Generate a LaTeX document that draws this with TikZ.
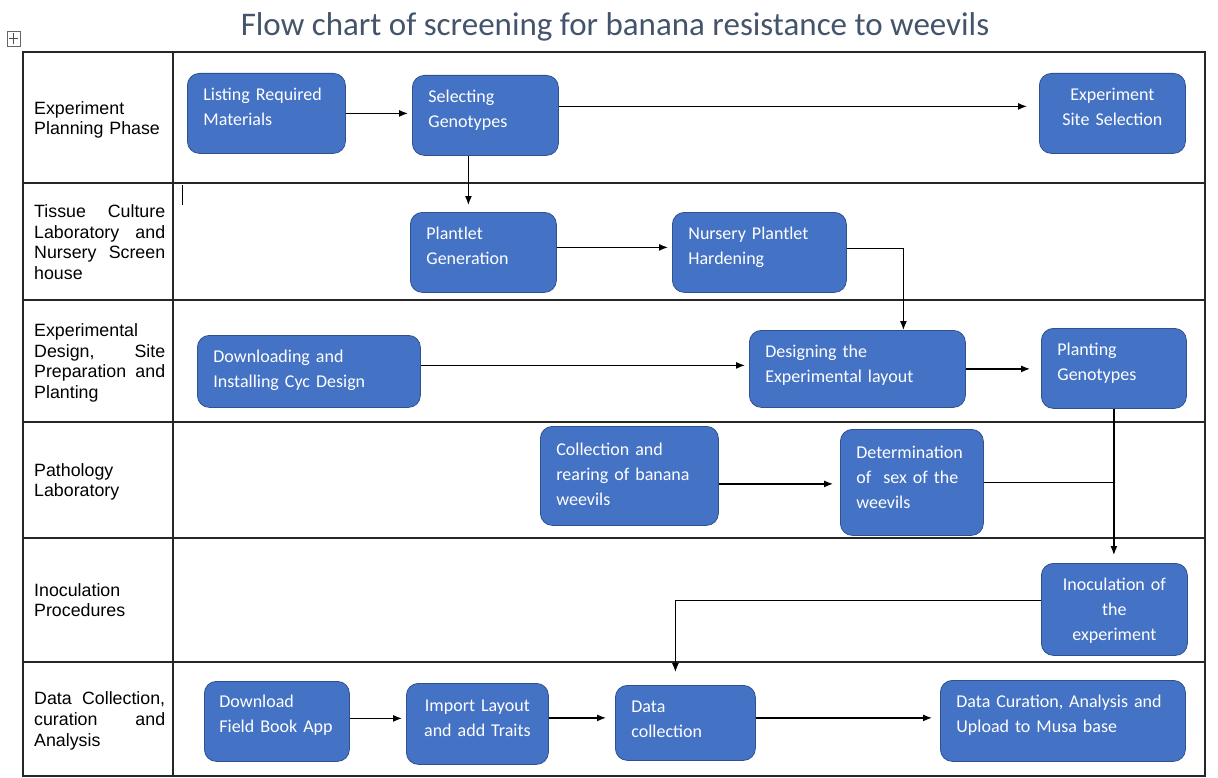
\documentclass[tikz,border=0pt]{standalone}
\usepackage{fontspec}
\setmainfont{Liberation Sans}
\newfontfamily\boxfont{Carlito}
\usetikzlibrary{arrows.meta,positioning,calc}
\definecolor{boxblue}{RGB}{68,114,196}
\definecolor{boxedge}{RGB}{47,82,143}
\definecolor{titlegray}{RGB}{68,84,106}

\begin{document}
\begin{tikzpicture}[x=1bp, y=-1bp,
    blk/.style={rectangle, draw=boxedge, fill=boxblue, line width=0.8bp, rounded corners=12bp, anchor=north west, text=white, align=left, inner xsep=16bp, inner ysep=0pt, text height=27bp, font=\boxfont\fontsize{18bp}{25bp}\selectfont},
    lane/.style={anchor=west, text width=131bp, align=left, inner sep=0pt, font=\fontsize{17.8bp}{20.7bp}\selectfont},
    grid/.style={line width=1.3bp, black!85},
    arrow/.style={-{Latex[length=9bp,width=7bp]}, line width=1.2bp, shorten >=4bp},
    link/.style={line width=1.2bp}
]
    \useasboundingbox (0,0) rectangle (1218,778);

    % Title
    \node[font=\boxfont\fontsize{33bp}{38bp}\selectfont, text=titlegray] (title) at (615,27) {Flow chart of screening for banana resistance to weevils};

    % Table
    \draw[line width=0.6bp, black!60] (7,31) rectangle (20,46);
    \draw[line width=0.6bp, black!70] (13.5,33) -- (13.5,44) (9,38.5) -- (18,38.5);
    \draw[grid] (23,52) rectangle (1205,776);
    \draw[grid] (173,52) -- (173,776);
    \foreach \y in {183,300,422,538,662}
        \draw[grid] (23,\y) -- (1205,\y);
    \draw[line width=1bp] (182,185) -- (182,205);

    % Lanes
    \node[lane] (plan) at (34,120) {Experiment\\Planning Phase};
    \node[lane] (tissue) at (34,242) {Tissue\nobreak\hfill Culture\\Laboratory\nobreak\hfill and\\Nursery\nobreak\hfill Screen\\house};
    \node[lane] (design) at (34,363) {Experimental\\Design,\nobreak\hfill Site\\Preparation\nobreak\hfill and\\Planting};
    \node[lane] (patho) at (34,482) {Pathology\\Laboratory};
    \node[lane] (inocl) at (34,600) {Inoculation\\Procedures};
    \node[lane] (datal) at (34,721) {Data\nobreak\hfill Collection,\\curation\nobreak\hfill and\\Analysis};

    % Planning
    \node[blk, text width=126bp, text depth=53bp] (lrm) at (187,73) {Listing Required\\Materials};
    \node[blk, text width=114bp, text depth=53bp] (sel) at (412,75) {Selecting\\Genotypes};
    \node[blk, text width=114bp, text depth=53bp, align=center] (site) at (1039,73) {Experiment\\Site Selection};

    % Tissue culture and nursery
    \node[blk, text width=114bp, text depth=53bp] (pgen) at (410,212) {Plantlet\\Generation};
    \node[blk, text width=142bp, text depth=53bp] (nph) at (672,212) {Nursery Plantlet\\Hardening};

    % Design and planting
    \node[blk, text width=191bp, text depth=45bp] (cyc) at (197,335) {Downloading and\\Installing Cyc Design};
    \node[blk, text width=184bp, text depth=50bp] (lay) at (749,330) {Designing the\\Experimental layout};
    \node[blk, text width=113bp, text depth=53bp] (pgt) at (1041,328) {Planting\\Genotypes};

    % Pathology
    \node[blk, text width=146bp, text height=29bp, text depth=70bp] (crw) at (540,426) {Collection and\\rearing of banana\\weevils};
    \node[blk, text width=111bp, text height=29bp, text depth=77bp] (sexd) at (840,429) {Determination\\of\ \ sex of the\\weevils};

    % Inoculation
    \node[blk, text width=114bp, text depth=65bp, align=center] (inoc) at (1041,563) {Inoculation of\\the\\experiment};

    % Data
    \node[blk, text width=121bp, inner xsep=12bp, text height=26bp, text depth=54bp] (fba) at (204,681) {\hspace{3bp}Download\\\hspace{3bp}Field Book App};
    \node[blk, text width=118bp, inner xsep=12bp, text height=28bp, text depth=53bp, align=center] (imp) at (406,683) {Import Layout\\and add Traits};
    \node[blk, text width=108bp, text depth=48bp] (dcol) at (615,685) {Data\\collection};
    \node[blk, text width=213bp, text depth=54bp] (cur) at (940,680) {Data Curation, Analysis and\\Upload to Musa base};

    % Arrows
    \draw[arrow] (lrm.east) -- (lrm.east -| sel.west);
    \draw[arrow, shorten >=12bp] ([yshift=9bp]sel.east) -- ([yshift=9bp]sel.east -| site.west);
    \draw[arrow, shorten >=7bp] ([xshift=-17bp]sel.south) -- ([xshift=-17bp]sel.south |- pgen.north);
    \draw[arrow] ([yshift=5bp]pgen.east) -- ([yshift=5bp]pgen.east -| nph.west);
    \draw[arrow, shorten >=0bp] ([yshift=4bp]nph.east) -| ([xshift=46bp]lay.north);
    \draw[arrow] ([yshift=6bp]cyc.east) -- ([yshift=6bp]cyc.east -| lay.west);
    \draw[arrow, shorten >=11bp] (lay.east) -- (lay.east -| pgt.west);
    \draw[arrow, shorten >=8bp] (pgt.south) -- (pgt.south |- inoc.north);
    \draw[arrow, shorten >=7bp] ([yshift=-8bp]crw.east) -- ([yshift=-8bp]crw.east -| sexd.west);
    \draw[link] (sexd.east) -- (sexd.east -| pgt.south);
    \draw[arrow, shorten >=13bp] ([yshift=9bp]inoc.west) -| ([xshift=-10bp]dcol.north);
    \draw[arrow] ([yshift=3bp]fba.east) -- ([yshift=3bp]fba.east -| imp.west);
    \draw[arrow, shorten >=9bp] ([yshift=6bp]imp.east) -- ([yshift=6bp]imp.east -| dcol.west);
    \draw[arrow, shorten >=8bp] ([yshift=5bp]dcol.east) -- ([yshift=5bp]dcol.east -| cur.west);
\end{tikzpicture}
\end{document}
